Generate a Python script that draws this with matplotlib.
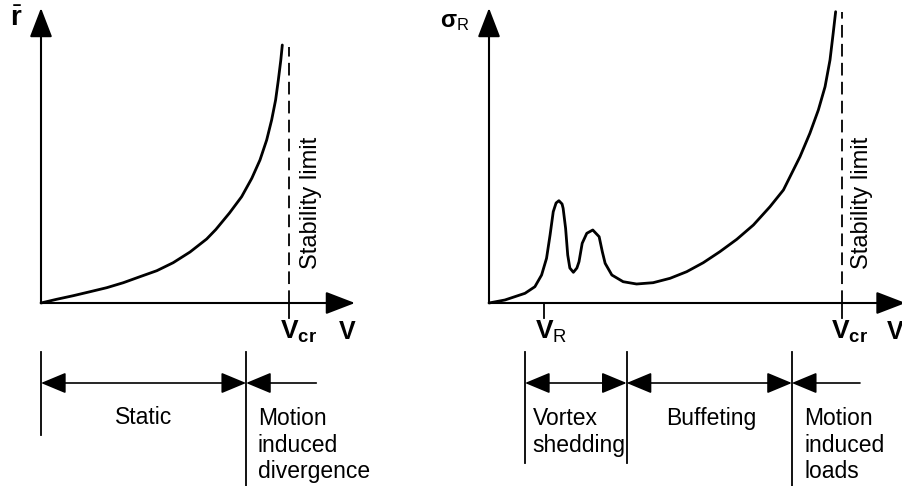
import numpy as np
import matplotlib
matplotlib.use("Agg")
import matplotlib.pyplot as plt

plt.rcParams['font.family'] = ['Liberation Sans', 'DejaVu Sans']
plt.rcParams['mathtext.fontset'] = 'custom'
plt.rcParams['mathtext.rm'] = 'Liberation Sans'
plt.rcParams['mathtext.bf'] = 'Liberation Sans:bold'
plt.rcParams['mathtext.it'] = 'Liberation Sans:italic'
plt.rcParams['mathtext.sf'] = 'Liberation Sans:bold'

# Left panel: mean response vs wind speed (V / Vcr)
v_static = [0.000, 0.063, 0.130, 0.198, 0.265, 0.332, 0.399, 0.467, 0.533,
            0.601, 0.668, 0.705, 0.760, 0.809, 0.850, 0.883, 0.910, 0.930,
            0.946, 0.957, 0.967, 0.973]
r_static = [0.000, 0.037, 0.073, 0.113, 0.153, 0.203, 0.263, 0.323, 0.403,
            0.510, 0.640, 0.735, 0.900, 1.063, 1.247, 1.430, 1.630, 1.830,
            2.030, 2.230, 2.430, 2.580]

# Right panel: dynamic response vs wind speed (V / Vcr)
v_dyn = [0.000, 0.045, 0.102, 0.130, 0.149, 0.163, 0.173, 0.182, 0.190,
         0.198, 0.207, 0.210, 0.217, 0.223, 0.229, 0.239, 0.249, 0.255,
         0.264, 0.277, 0.294, 0.312, 0.321, 0.329, 0.348, 0.380, 0.418,
         0.465, 0.513, 0.560, 0.607, 0.654, 0.702, 0.749, 0.796, 0.834,
         0.881, 0.909, 0.933, 0.952, 0.966, 0.975, 0.982]
s_dyn = [0.000, 0.030, 0.097, 0.163, 0.280, 0.447, 0.680, 0.913, 1.000,
         1.023, 0.990, 0.947, 0.747, 0.480, 0.350, 0.307, 0.350, 0.413,
         0.597, 0.697, 0.730, 0.663, 0.513, 0.397, 0.280, 0.213, 0.190,
         0.203, 0.247, 0.313, 0.403, 0.513, 0.637, 0.780, 0.963, 1.130,
         1.463, 1.697, 1.930, 2.163, 2.430, 2.697, 2.913]

v_cr = 1.0
v_r = 0.156

# regime boundaries (V / Vcr) and labels
left_bounds = [0.0, 0.827]
left_labels = ["Static", "Motion\ninduced\ndivergence"]
right_bounds = [0.102, 0.390, 0.858]
right_labels = ["Vortex\nshedding", "Buffeting", "Motion\ninduced\nloads"]

fs = 16.5
fs_v = 19
lw_axis = 1.5
arrow_kw = dict(arrowstyle="-|>,head_length=1.3,head_width=0.5",
                color="black", lw=lw_axis, shrinkA=0, shrinkB=0,
                mutation_scale=14)
reg_kw = dict(color="black", lw=1.2, shrinkA=0, shrinkB=0, mutation_scale=13)
reg_head = "head_length=1.2,head_width=0.5"


def draw_axes(ax, xtip, ytip):
    ax.annotate("", xy=(0, ytip), xytext=(0, 0), arrowprops=arrow_kw,
                annotation_clip=False)
    ax.annotate("", xy=(xtip, 0), xytext=(0, 0), arrowprops=arrow_kw,
                annotation_clip=False)


def draw_limit(ax, top):
    ax.plot([v_cr, v_cr], [0, top], color="black", lw=1.3,
            linestyle=(0, (7, 3.5)))
    ax.plot([v_cr, v_cr], [0, -0.15], color="black", lw=1.3)


def draw_regimes(ax, bounds, bottoms, arrow_end, y_arrow=-0.80):
    for b, yb in zip(bounds, bottoms):
        ax.plot([b, b], [-0.49, yb], color="black", lw=1.3, clip_on=False)
    for a, b in zip(bounds[:-1], bounds[1:]):
        ax.annotate("", xy=(b, y_arrow), xytext=(a, y_arrow),
                    arrowprops=dict(arrowstyle="<|-|>," + reg_head, **reg_kw),
                    annotation_clip=False)
    ax.annotate("", xy=(bounds[-1], y_arrow), xytext=(arrow_end, y_arrow),
                arrowprops=dict(arrowstyle="-|>," + reg_head, **reg_kw),
                annotation_clip=False)


fig = plt.figure(figsize=(9.03, 4.86), dpi=100)

# left panel, scale: 248 px per unit V, 100 px per unit response
axl = fig.add_axes([0, 0, 451 / 903, 1])
axl.set_xlim(-41 / 248, 410 / 248)
axl.set_ylim(-1.83, 3.03)
axl.axis("off")

axl.plot(v_static, r_static, color="black", lw=2, solid_capstyle="round",
         solid_joinstyle="round")
draw_axes(axl, 1.266, 2.95)
draw_limit(axl, 2.56)
axl.text(1.087, 1.0, "Stability limit", rotation=90, ha="center",
         va="center", fontsize=17)
axl.text(-0.10, 2.84, r"$\bar{\mathsf{r}}$", ha="center", va="center",
         fontsize=20)
axl.text(1.234, -0.29, "V", ha="center", va="center", fontsize=18,
         fontweight="bold")
axl.text(0.962, -0.16, r"$\mathbf{V}_{\mathbf{cr}}$", ha="left", va="top",
         fontsize=fs_v)
draw_regimes(axl, left_bounds, [-1.32, -1.85], 1.11)
axl.text(0.413, -1.15, left_labels[0], ha="center", va="center", fontsize=fs)
axl.text(0.875, -1.04, left_labels[1], ha="left", va="top", fontsize=fs,
         linespacing=1.2)

# right panel, scale: 353 px per unit V
axr = fig.add_axes([451 / 903, 0, 452 / 903, 1])
axr.set_xlim(-38 / 353, 414 / 353)
axr.set_ylim(-1.83, 3.03)
axr.axis("off")

axr.plot(v_dyn, s_dyn, color="black", lw=2, solid_capstyle="round",
         solid_joinstyle="round")
draw_axes(axr, 1.18, 2.95)
draw_limit(axr, 2.91)
axr.plot([v_r, v_r], [0, -0.15], color="black", lw=1.3)
axr.text(1.057, 1.0, "Stability limit", rotation=90, ha="center",
         va="center", fontsize=17)
axr.text(-0.098, 2.81, r"$\mathbf{\sigma}_{\mathrm{R}}$", ha="center",
         va="center", fontsize=17)
axr.text(1.1728, -0.29, "V", ha="right", va="center", fontsize=18,
         fontweight="bold")
axr.text(v_r - 0.027, -0.16, r"$\mathbf{V}_{\mathrm{R}}$", ha="left",
         va="top", fontsize=fs_v)
axr.text(0.968, -0.16, r"$\mathbf{V}_{\mathbf{cr}}$", ha="left", va="top",
         fontsize=fs_v)
draw_regimes(axr, right_bounds, [-1.60, -1.60, -1.85], 1.051)
axr.text(0.123, -1.04, right_labels[0], ha="left", va="top", fontsize=fs,
         linespacing=1.2)
axr.text(0.630, -1.15, right_labels[1], ha="center", va="center", fontsize=fs)
axr.text(0.894, -1.04, right_labels[2], ha="left", va="top", fontsize=fs,
         linespacing=1.2)

fig.savefig("out.png", dpi=100, facecolor="white")
